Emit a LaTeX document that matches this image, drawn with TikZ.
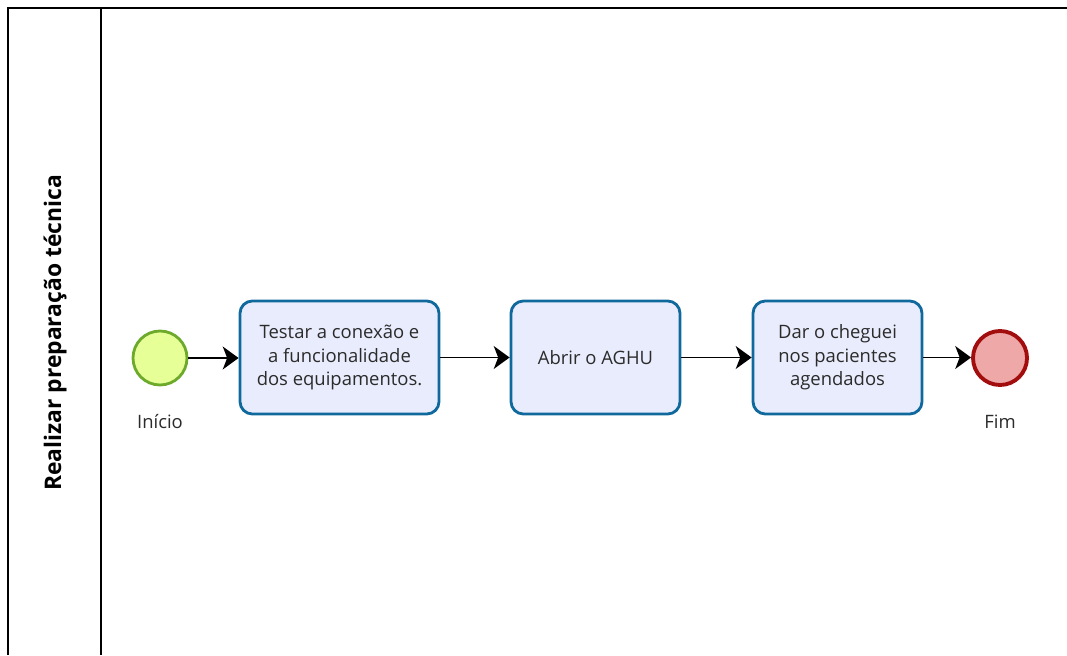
\documentclass[tikz,border=0pt]{standalone}
\usepackage{fontspec}
\setmainfont{Open Sans}
\usetikzlibrary{arrows.meta}
\definecolor{StartClr}{HTML}{6DAA2C}
\definecolor{StartFill}{HTML}{E6FF97}
\definecolor{TaskClr}{HTML}{10699D}
\definecolor{TaskFill}{HTML}{E9ECFC}
\definecolor{EndClr}{HTML}{A20E0E}
\definecolor{EndFill}{HTML}{EEA8A8}
\definecolor{TxtClr}{HTML}{2B2B2B}

\tikzset{
  task/.style={draw=TaskClr,fill=TaskFill,line width=1.6pt,rounded corners=7pt,
    minimum height=2.26cm,align=center,text=TxtClr,font=\fontsize{10.5}{13.3}\selectfont},
  startev/.style={circle,draw=StartClr,fill=StartFill,line width=1.6pt,minimum size=1.08cm,inner sep=0pt},
  endev/.style={circle,draw=EndClr,fill=EndFill,line width=2.2pt,minimum size=1.08cm,inner sep=0pt},
  evlabel/.style={text=TxtClr,font=\fontsize{10.5}{13}\selectfont},
  flow/.style={line width=1.1pt,-{Stealth[length=9pt,width=13pt,inset=2.5pt]}},
  pool/.style={line width=1.1pt}
}

\begin{document}
\begin{tikzpicture}
\useasboundingbox (0,0) rectangle (21.34,13.1);

% pool and lane
\draw[pool] (21.34,12.94) -- (0.16,12.94) -- (0.16,0);
\draw[pool] (2.02,12.94) -- (2.02,0);
\node[rotate=90,font=\bfseries\fontsize{13}{15}\selectfont] (lane) at (1.1,6.44) {Realizar preparação técnica};

% events and tasks
\node[startev] (inicio) at (3.2,5.94) {};
\node[evlabel] (lblinicio) at (3.2,4.66) {Início};
\node[task,minimum width=3.98cm] (testar) at (6.79,5.95) {Testar a conexão e\\a funcionalidade\\dos equipamentos.};
\node[task,minimum width=3.38cm] (abrir) at (11.91,5.95) {Abrir o AGHU};
\node[task,minimum width=3.38cm] (chegou) at (16.75,5.95) {Dar o cheguei\\nos pacientes\\agendados};
\node[endev] (fim) at (20.0,5.94) {};
\node[evlabel] (lblfim) at (20.0,4.66) {Fim};

% sequence flows
\draw[flow] (inicio) -- (inicio -| testar.west);
\draw[flow] (testar.east |- abrir) -- (abrir);
\draw[flow] (abrir) -- (chegou);
\draw[flow] (chegou) -- (chegou -| fim.west);

\end{tikzpicture}
\end{document}
